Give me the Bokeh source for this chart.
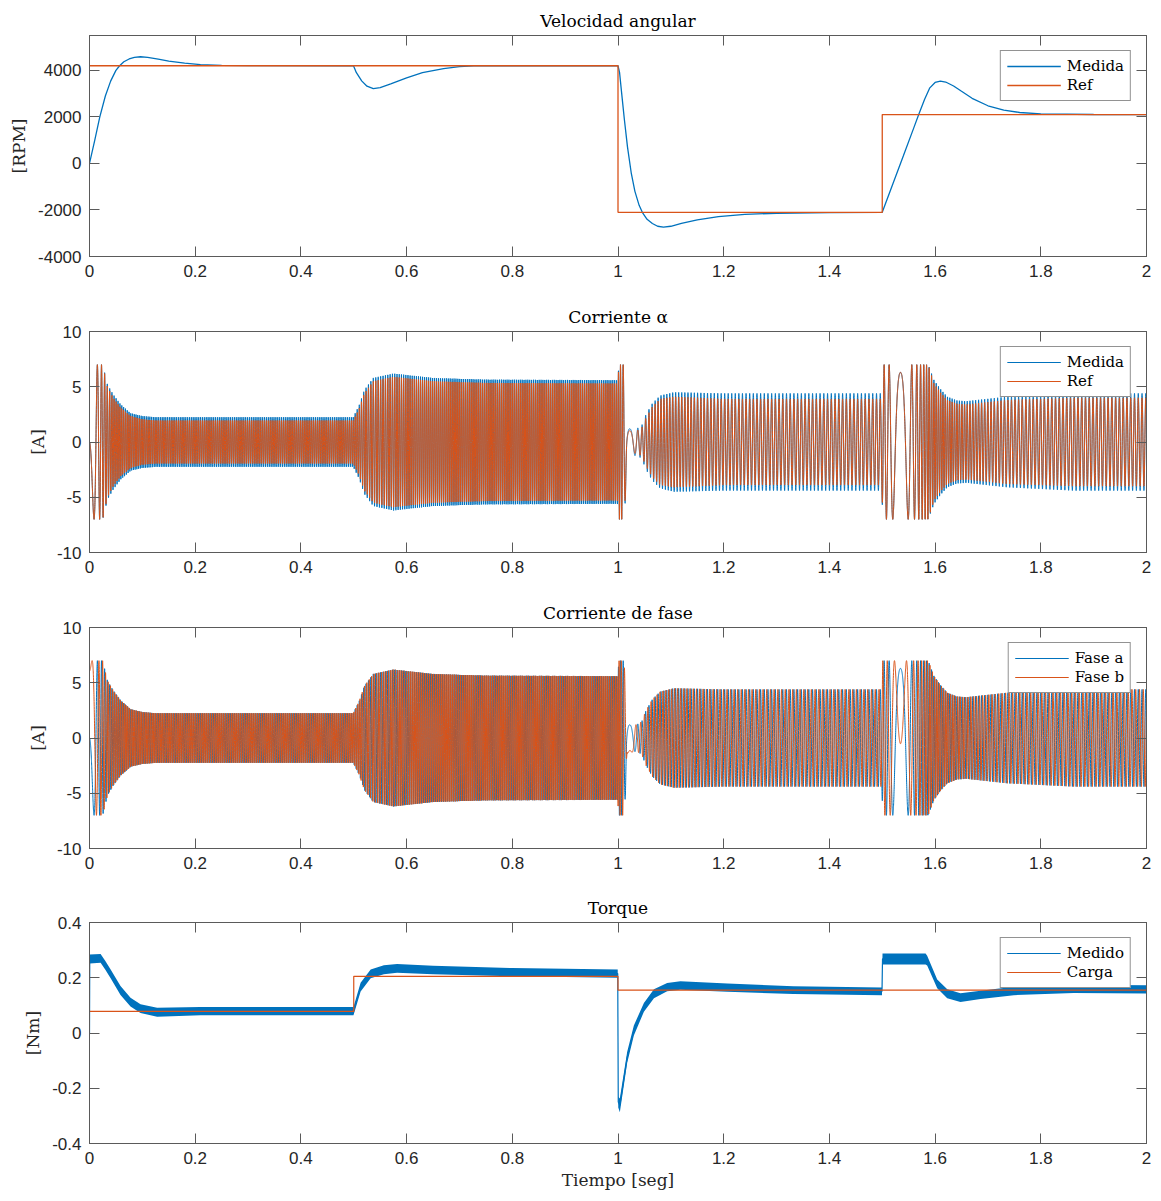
import numpy as np
from bokeh.plotting import figure
from bokeh.layouts import column
from bokeh.models import FixedTicker, PrintfTickFormatter, LinearAxis, Range1d
from bokeh.embed import file_html
from bokeh.resources import INLINE

BLUE = "#0072BD"
ORANGE = "#D95319"
SERIF = "DejaVu Serif"
SANS = "Liberation Sans"
AXC = "#5a5a5a"

x_ticks = [0, 0.2, 0.4, 0.6, 0.8, 1.0, 1.2, 1.4, 1.6, 1.8, 2.0]

# ---------------- Velocidad angular (RPM) ----------------
t_speed = [0, 0.01, 0.0195, 0.03, 0.04, 0.05, 0.057, 0.065, 0.075, 0.085, 0.0965,
           0.11, 0.13, 0.15, 0.18, 0.21, 0.25, 0.3, 0.4995, 0.505, 0.515, 0.525,
           0.537, 0.55, 0.57, 0.6, 0.63, 0.67, 0.7, 0.727, 0.8, 1.0, 1.003, 1.007,
           1.012, 1.018, 1.025, 1.032, 1.04, 1.046, 1.055, 1.065, 1.075, 1.086, 1.1,
           1.12, 1.15, 1.19, 1.24, 1.3, 1.4, 1.5, 1.52, 1.54, 1.56, 1.569, 1.58,
           1.59, 1.6, 1.61, 1.62, 1.635, 1.65, 1.67, 1.7, 1.73, 1.76, 1.8, 1.9, 2.0]
rpm_meas = [0, 1000, 2000, 2900, 3540, 4000, 4200, 4370, 4490, 4560, 4586,
            4560, 4480, 4400, 4310, 4250, 4215, 4203, 4200, 3900, 3550, 3320,
            3220, 3260, 3420, 3680, 3900, 4080, 4160, 4195, 4200, 4200, 3900, 3000,
            1900, 700, -400, -1200, -1800, -2100, -2400, -2580, -2700, -2740, -2700,
            -2580, -2430, -2290, -2190, -2140, -2110, -2100, -880, 330, 1550, 2100, 2750,
            3250, 3480, 3540, 3500, 3330, 3100, 2800, 2480, 2290, 2190, 2130, 2105, 2100]
ref_edges = [0, 1.0, 1.5, 2.0]
rpm_ref = [4200, -2100, 2100]

# ---------------- Corrientes: envolventes leídas ----------------
t_env = [0, 0.004, 0.025, 0.034, 0.045, 0.059, 0.078, 0.1, 0.125, 0.2, 0.499,
         0.51, 0.52, 0.537, 0.575, 0.65, 0.75, 0.999, 1.002, 1.011, 1.014, 1.017,
         1.035, 1.045, 1.052, 1.065, 1.08, 1.106, 1.2, 1.499, 1.501, 1.587, 1.598,
         1.61, 1.623, 1.642, 1.66, 1.736, 1.862, 2.0]
amp_ref = [7, 7, 7, 5.0, 4.0, 3.1, 2.35, 2.05, 1.95, 1.95, 1.95,
           3.0, 4.4, 5.5, 5.9, 5.5, 5.35, 5.3, 7, 7, 5.0, 1.2,
           1.0, 1.3, 2.1, 3.2, 3.9, 4.1, 3.9, 3.9, 7, 7, 5.3,
           4.5, 3.8, 3.45, 3.4, 3.8, 4.0, 4.0]
amp_meas = [7, 7, 7, 5.2, 4.3, 3.4, 2.6, 2.35, 2.25, 2.25, 2.25,
            3.3, 4.7, 5.8, 6.2, 5.8, 5.65, 5.6, 7, 7, 5.3, 1.4,
            1.2, 1.5, 2.4, 3.5, 4.2, 4.5, 4.4, 4.4, 7, 7, 5.6,
            4.8, 4.1, 3.75, 3.7, 4.1, 4.4, 4.4]
pole_pairs = 4

# ---------------- Torque ----------------
t_tq = [0, 0.0005, 0.021, 0.030, 0.040, 0.0587, 0.0776, 0.0965, 0.128, 0.21, 0.4995,
        0.513, 0.532, 0.557, 0.582, 0.65, 0.8, 0.9995, 1.0005, 1.0035, 1.0174, 1.030,
        1.049, 1.068, 1.093, 1.118, 1.207, 1.332, 1.4995, 1.5005, 1.582, 1.585, 1.604,
        1.623, 1.648, 1.686, 1.749, 1.862, 2.0]
tq_meas = [0, 0.268, 0.27, 0.245, 0.214, 0.154, 0.112, 0.088, 0.075, 0.079, 0.079,
           0.166, 0.214, 0.229, 0.234, 0.228, 0.220, 0.215, -0.25, -0.262, -0.088, 0.009,
           0.093, 0.142, 0.166, 0.172, 0.164, 0.155, 0.151, 0.268, 0.268, 0.262, 0.178,
           0.142, 0.128, 0.138, 0.152, 0.160, 0.158]
tq_hw = [0, 0.016, 0.016, 0.016, 0.016, 0.016, 0.016, 0.016, 0.016, 0.015, 0.015,
         0.016, 0.016, 0.016, 0.016, 0.015, 0.015, 0.015, 0.02, 0.025, 0.02, 0.018,
         0.016, 0.016, 0.015, 0.015, 0.015, 0.014, 0.014, 0.02, 0.02, 0.018, 0.016,
         0.016, 0.016, 0.015, 0.015, 0.015, 0.015]
load_edges = [0, 0.5, 1.0, 2.0]
load_ref = [0.078, 0.205, 0.155]


def steps(edges, levels):
    xs, ys = [], []
    for i, lv in enumerate(levels):
        xs += [edges[i], edges[i + 1]]
        ys += [lv, lv]
    return xs, ys


# derived signals (electrical angle from the read speed)
t = np.linspace(0, 2, 20001)
dt = t[1] - t[0]
rpm_f = np.interp(t, t_speed, rpm_meas)
w = pole_pairs * rpm_f / 60.0 * 2 * np.pi
theta = np.cumsum(w * dt) - w[0] * dt
A_ref = np.interp(t, t_env, amp_ref)
A_meas = np.interp(t, t_env, amp_meas)
ia_ref = -A_ref * np.sin(theta)
ia_meas = -A_meas * np.sin(theta)
i_fa = -A_meas * np.sin(theta)
i_fb = -A_meas * np.sin(theta - 2 * np.pi / 3)


def style_axis(ax, ticks, labels=True):
    ax.ticker = FixedTicker(ticks=ticks)
    ax.formatter = PrintfTickFormatter(format="%.4g")
    ax.major_tick_in = 10
    ax.major_tick_out = 0
    ax.minor_tick_line_color = None
    ax.major_tick_line_color = AXC
    ax.axis_line_color = AXC
    ax.major_label_text_font = SANS
    if labels:
        ax.major_label_text_color = "#262626"
        ax.major_label_text_font_size = "17px"
        ax.major_label_standoff = 8
    else:
        ax.major_label_text_color = None
        ax.major_label_text_font_size = "1px"
        ax.major_label_standoff = 0
    ax.axis_label_text_font = SERIF
    ax.axis_label_text_font_size = "17px"
    ax.axis_label_text_font_style = "normal"
    ax.axis_label_text_color = "#262626"
    ax.axis_label_standoff = 6


def make_fig(title, yr, yticks, ylabel, height, top_b, bottom_b, xlabel=None):
    p = figure(width=1160, height=height, x_range=Range1d(0, 2), y_range=Range1d(*yr),
               output_backend="svg", toolbar_location=None,
               min_border_left=89, min_border_right=14, min_border_top=top_b,
               min_border_bottom=bottom_b)
    p.title.text = title
    p.title.align = "center"
    p.title.text_font = SERIF
    p.title.text_font_size = "17px"
    p.title.text_font_style = "normal"
    p.title.text_color = "#000000"
    p.title.standoff = 9
    p.xgrid.visible = False
    p.ygrid.visible = False
    p.outline_line_color = AXC
    p.outline_line_alpha = 1
    style_axis(p.xaxis[0], x_ticks)
    style_axis(p.yaxis[0], yticks)
    p.yaxis[0].axis_label = ylabel
    if xlabel:
        p.xaxis[0].axis_label = xlabel
        p.xaxis[0].axis_label_standoff = 3
    top = LinearAxis()
    style_axis(top, x_ticks, labels=False)
    p.add_layout(top, "above")
    right = LinearAxis()
    style_axis(right, yticks, labels=False)
    p.add_layout(right, "right")
    return p


def style_legend(p):
    lg = p.legend[0]
    lg.location = "top_right"
    lg.margin = 15
    lg.padding = 6
    lg.spacing = 1
    lg.glyph_width = 54
    lg.glyph_height = 18
    lg.label_height = 18
    lg.label_standoff = 6
    lg.label_text_font = SERIF
    lg.label_text_font_size = "15px"
    lg.label_text_color = "#000000"
    lg.border_line_color = "#262626"
    lg.border_line_width = 1
    lg.background_fill_alpha = 1


# 1) speed
p1 = make_fig("Velocidad angular", (-4000, 5500), [-4000, -2000, 0, 2000, 4000], "[RPM]", 300, 35, 44)
p1.line(t_speed, rpm_meas, color=BLUE, line_width=1.3, legend_label="Medida")
xr, yr_ = steps(ref_edges, rpm_ref)
p1.line(xr, yr_, color=ORANGE, line_width=1.3, legend_label="Ref")
style_legend(p1)

# 2) alpha current
p2 = make_fig("Corriente α", (-10, 10), [-10, -5, 0, 5, 10], "[A]", 296, 31, 44)
p2.line(t, ia_meas, color=BLUE, line_width=1, legend_label="Medida")
p2.line(t, ia_ref, color=ORANGE, line_width=1, legend_label="Ref")
style_legend(p2)

# 3) phase currents
p3 = make_fig("Corriente de fase", (-10, 10), [-10, -5, 0, 5, 10], "[A]", 295, 31, 43)
p3.line(t, i_fa, color=BLUE, line_width=1, legend_label="Fase a")
p3.line(t, i_fb, color=ORANGE, line_width=1, legend_label="Fase b")
style_legend(p3)

# 4) torque
p4 = make_fig("Torque", (-0.4, 0.4), [-0.4, -0.2, 0, 0.2, 0.4], "[Nm]", 308, 31, 56, xlabel="Tiempo [seg]")
tq_lo = [c - h for c, h in zip(tq_meas, tq_hw)]
tq_hi = [c + h for c, h in zip(tq_meas, tq_hw)]
p4.varea(x=t_tq, y1=tq_lo, y2=tq_hi, fill_color=BLUE, fill_alpha=1)
p4.line(t_tq, tq_meas, color=BLUE, line_width=1.2, legend_label="Medido")
xl, yl = steps(load_edges, load_ref)
p4.line(xl, yl, color=ORANGE, line_width=1.2, legend_label="Carga")
style_legend(p4)

layout = column(p1, p2, p3, p4, spacing=0)
open("out.html", "w").write(file_html(layout, INLINE))
